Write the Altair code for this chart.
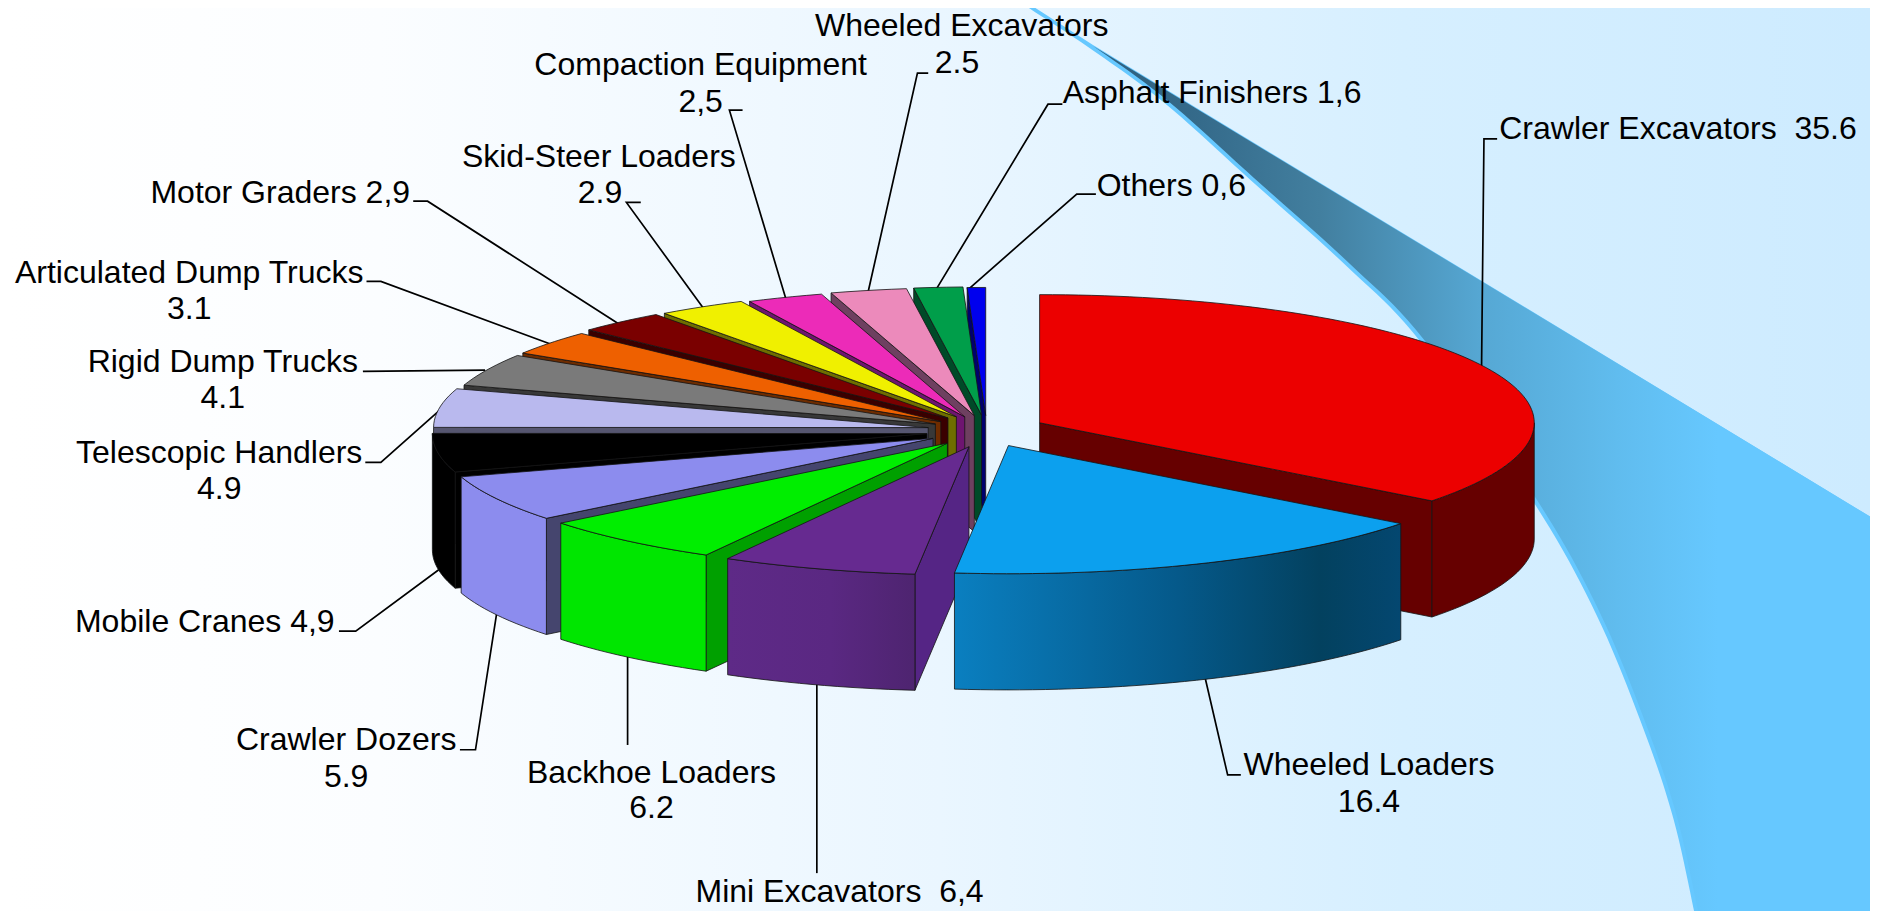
import math
import altair as alt
import pandas as pd

# ---- chart values -------------------------------------------------------
categories = ["Crawler Excavators", "Wheeled Loaders", "Mini Excavators", "Backhoe Loaders",
              "Crawler Dozers", "Mobile Cranes", "Telescopic Handlers", "Rigid Dump Trucks",
              "Articulated Dump Trucks", "Motor Graders", "Skid-Steer Loaders",
              "Compaction Equipment", "Wheeled Excavators", "Asphalt Finishers", "Others"]
shares = [35.6, 16.4, 6.4, 6.2, 5.9, 4.9, 4.9, 4.1, 3.1, 2.9, 2.9, 2.5, 2.5, 1.6, 0.6]
top_colors = ["#EC0000", "#0CA0EE", "#662A90", "#00EE00", "#8C8CEE", "#000000", "#B9B9EE", "#7A7A7A",
              "#EE6000", "#7A0000", "#F0F000", "#EC2BB8", "#EC8ABB", "#009E4A", "#0000EE"]
side_colors = ["#660000", "#0A6FA8", "#5A2785", "#00E600", "#8C8CEE", "#000000", "#565670", "#383838",
               "#6E2C00", "#3A0000", "#6E6E00", "#6E1570", "#6E4060", "#004A28", "#00006E"]
face_colors = ["#660000", "#0A6FA8", "#552585", "#00A000", "#45456E", "#000000", "#565670", "#383838",
               "#6E2C00", "#3A0000", "#6E6E00", "#6E1570", "#6E4060", "#004A28", "#00006E"]

# ---- layout (reference pixels of the 1568 wide view) ---------------------
K = 1878 / 1568
RX, RY, DEPTH = 413, 107, 97
apex_x = [868, 842, 809, 791, 779, 774, 775, 781, 785.5, 791.5, 798.5, 805.5, 813.5, 819.5, 823]
apex_y = [353, 372, 373, 370, 366, 362, 357, 354, 352, 349, 348, 348, 347, 346.5, 347]
paint_order = [14, 13, 12, 11, 10, 9, 8, 7, 6, 0, 5, 4, 3, 2, 1]

label_text = ["Wheeled Excavators", "2.5", "Compaction Equipment", "2,5", "Asphalt Finishers 1,6",
              "Crawler Excavators\u00a0 35.6", "Skid-Steer Loaders", "2.9", "Others 0,6", "Motor Graders 2,9",
              "Articulated Dump Trucks", "3.1", "Rigid Dump Trucks", "4.1", "Telescopic Handlers", "4.9",
              "Mobile Cranes 4,9", "Crawler Dozers", "5.9", "Backhoe Loaders", "6.2",
              "Mini Excavators\u00a0 6,4", "Wheeled Loaders", "16.4"]
label_x = [803, 799, 585, 585, 1012, 1401, 500, 501, 978, 234, 158, 158, 186, 186, 183, 183, 171, 289, 289, 544, 544,
           701, 1143, 1143]
label_y = [22, 53, 54, 85, 78, 108, 131, 161, 155, 161, 228, 258, 302, 332, 378, 408, 519, 618, 649, 645, 675, 745,
           639, 670]

leaders = [
    [(775, 61), (766, 61), (725, 243)],
    [(620, 92), (609, 92), (656, 249)],
    [(887, 87), (875, 87), (782, 241)],
    [(915, 162), (899, 162), (808, 242)],
    [(1250, 116), (1239, 116), (1237, 307)],
    [(535, 169), (523, 169), (587, 257)],
    [(345, 168), (357, 168), (519, 272)],
    [(306, 235), (318, 235), (459, 287)],
    [(303, 310), (405, 309)],
    [(305, 386), (318, 386), (370, 340)],
    [(283, 527), (297, 527), (370, 473)],
    [(384, 626), (397, 626), (415, 510)],
    [(524, 546), (524, 622)],
    [(682, 568), (682, 729)],
    [(1006, 565), (1025, 647), (1036, 647)],
]

# Background ribbon outline (full-size pixels)
ribbon_corners = [(1874, 519), (1874, 911)]
ribbon_curve = [(1698, 911), (1677, 817), (1647, 727), (1600, 613), (1537, 500), (1425, 341),
                (1350, 264), (1254, 178), (1168, 101), (1093, 46), (1023, 0)]


def smooth(pts, steps=10):
    out = []
    p = [pts[0]] + list(pts) + [pts[-1]]
    for k in range(1, len(p) - 2):
        p0, p1, p2, p3 = p[k - 1], p[k], p[k + 1], p[k + 2]
        for s in range(steps):
            t = s / steps
            q = []
            for a in range(2):
                q.append(0.5 * (2 * p1[a] + (p2[a] - p0[a]) * t + (2 * p0[a] - 5 * p1[a] + 4 * p2[a] - p3[a]) * t * t
                                + (3 * p1[a] - p0[a] - 3 * p2[a] + p3[a]) * t * t * t))
            out.append(tuple(q))
    out.append(pts[-1])
    return out


curve = smooth(ribbon_curve)
curve_main = [c for c in curve if c[1] >= 45]
curve_edge = [(c[0] - 3.5, c[1] + 2) for c in curve] + [(1023, 0), (1093, 45)]


def point(i, deg, drop=0):
    a = math.radians(deg)
    return ((apex_x[i] + RX * math.sin(a)) * K, (apex_y[i] - RY * math.cos(a) + drop) * K)


def arc(i, d0, d1, drop=0):
    n = max(2, int(abs(d1 - d0) / 1.5) + 1)
    return [point(i, d0 + (d1 - d0) * j / (n - 1), drop) for j in range(n)]


total = sum(shares)
starts, ends, run = [], [], 0.0
for s in shares:
    starts.append(run / total * 360)
    run += s
    ends.append(run / total * 360)

polys = []


def add(group, pts, fill, stroke="#141414"):
    polys.append((group, list(pts), fill, stroke))


for i in paint_order:
    a0, a1 = starts[i], ends[i]
    ax, ay = apex_x[i] * K, apex_y[i] * K
    d = DEPTH * K
    g = "main" if i not in (1, 2) else f"s{i}"
    if a0 > 180:
        c = point(i, a0)
        add(g if i != 2 else "main", [(ax, ay), c, (c[0], c[1] + d), (ax, ay + d)], face_colors[i])
    if a1 < 180:
        c = point(i, a1)
        add(g, [(ax, ay), c, (c[0], c[1] + d), (ax, ay + d)], face_colors[i])
    w0, w1 = max(a0, 90), min(a1, 270)
    if w1 > w0:
        add(f"wall{i}" if i in (1, 2) else g, arc(i, w0, w1) + arc(i, w1, w0, DEPTH), side_colors[i])
    add(f"top{i}" if i in (1, 2) else g, [(ax, ay)] + arc(i, a0, a1), top_colors[i])

rows = []
for n, (group, pts, fill, stroke) in enumerate(polys):
    closed = pts + [pts[0]]
    for j, (x, y) in enumerate(closed):
        rows.append({"group": group, "pid": f"p{n:03d}", "i": j, "x": x, "y": y, "fill": fill, "stroke": stroke})
pie = pd.DataFrame(rows)

line_rows = []
for n, pts in enumerate(leaders):
    for j, (x, y) in enumerate(pts):
        line_rows.append({"pid": f"l{n:02d}", "i": j, "x": x * K, "y": y * K})
lines = pd.DataFrame(line_rows)

labels = pd.DataFrame({"text": label_text, "x": [v * K for v in label_x], "y": [v * K for v in label_y]})

X = alt.X("x:Q", scale=alt.Scale(domain=[8, 1870], nice=False, zero=False), axis=None)
Y = alt.Y("y:Q", scale=alt.Scale(domain=[911, 8], nice=False, zero=False), axis=None)
ORDER = alt.Order("i:Q")


def grad(stops):
    return alt.LinearGradient(gradient="linear", x1=0, x2=1, y1=0, y2=0,
                              stops=[alt.GradientStop(offset=o, color=c) for o, c in stops])


def outline(pts):
    pts = pts + [pts[0]]
    return pd.DataFrame({"i": range(len(pts)), "x": [p[0] for p in pts], "y": [p[1] for p in pts]})


bg = alt.Chart(pd.DataFrame({"x": [8], "x2": [1870], "y": [8], "y2": [911]})).mark_rect(
    color=grad([(0, "#FFFFFF"), (0.2, "#FBFDFF"), (0.5, "#EAF6FF"), (0.75, "#D6EFFF"), (1, "#CDEBFF")])
).encode(x=X, x2="x2:Q", y=Y, y2="y2:Q")

ribbon_a = alt.Chart(outline(ribbon_corners + curve_edge)).mark_line(
    filled=True, fill="#66C8FF", stroke="#66C8FF", strokeWidth=0).encode(x=X, y=Y, order=ORDER)
ribbon_b = alt.Chart(outline(ribbon_corners + curve_main)).mark_line(
    filled=True, strokeWidth=0,
    fill=grad([(0, "#2E5F7E"), (0.14, "#356B8B"), (0.29, "#427F9F"), (0.5, "#56A8D4"), (0.67, "#60BCEE"), (0.8, "#66C8FF"), (1, "#66C8FF")])
).encode(x=X, y=Y, order=ORDER)

lead = alt.Chart(lines).mark_line(color="#000000", strokeWidth=1.7).encode(x=X, y=Y, detail="pid:N", order=ORDER)


def poly_layer(df):
    return alt.Chart(df).mark_line(filled=True, strokeWidth=0.8).encode(
        x=X, y=Y, order=ORDER, detail="pid:N",
        fill=alt.Fill("fill:N", scale=None), stroke=alt.Stroke("stroke:N", scale=None))


def wall_layer(df, stops):
    return alt.Chart(df).mark_line(filled=True, strokeWidth=0.8, stroke="#141414", fill=grad(stops)).encode(
        x=X, y=Y, order=ORDER)


main = poly_layer(pie[pie.group == "main"])
mini_wall = wall_layer(pie[pie.group == "wall2"], [(0, "#5E2A87"), (0.55, "#5A2882"), (1, "#4E2470")])
mini_top = poly_layer(pie[pie.group == "top2"])
wheel_wall = wall_layer(pie[pie.group == "wall1"], [(0, "#0A7FC0"), (0.5, "#05598A"), (0.82, "#03415F"), (1, "#044770")])
wheel_top = poly_layer(pie[pie.group == "top1"])

text = alt.Chart(labels).mark_text(font="Liberation Sans", fontSize=32, color="#000000", align="center",
                                   baseline="middle").encode(x=X, y=Y, text="text:N")

chart = alt.layer(bg, ribbon_a, ribbon_b, lead, main, mini_wall, mini_top, wheel_wall, wheel_top, text).properties(
    width=1862, height=903, padding=0, autosize=alt.AutoSizeParams(type="none"), background="#FFFFFF"
).configure_view(stroke=None)

chart.save("out.html", embed_options={"renderer": "svg", "actions": False})
